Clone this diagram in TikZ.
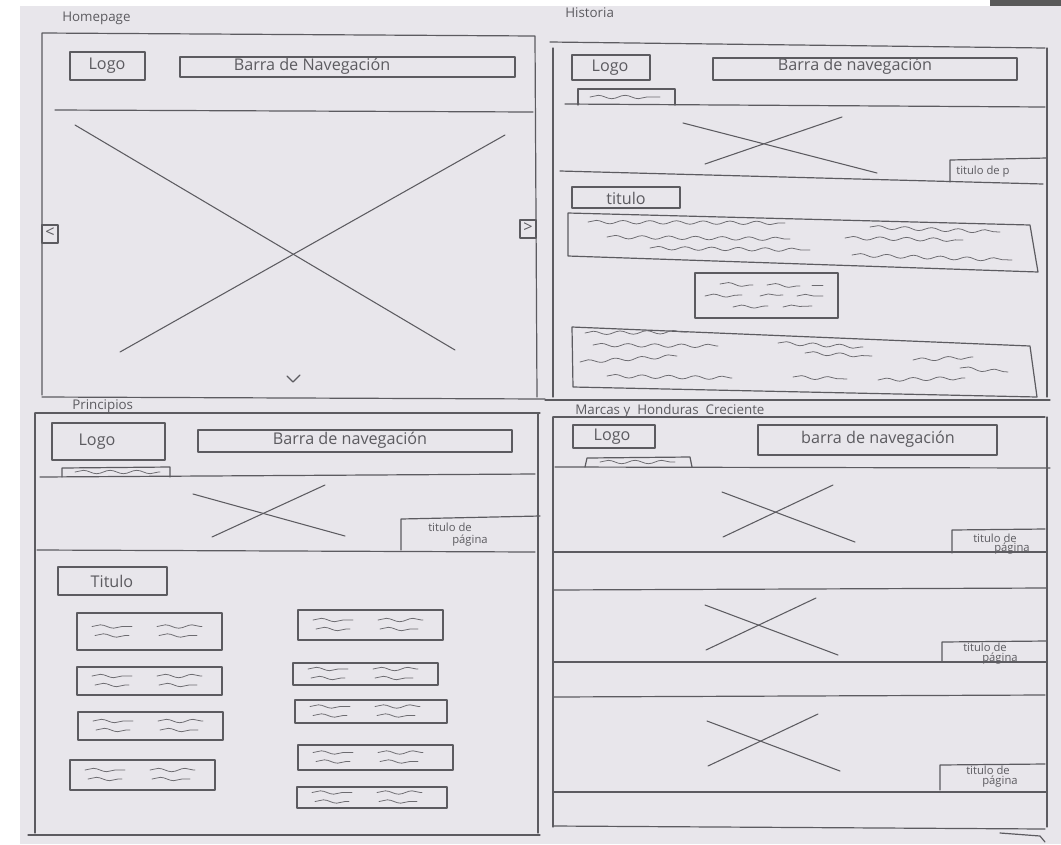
\documentclass[tikz,border=0pt]{standalone}
\usepackage{fontspec}
\setmainfont{Open Sans}
\usetikzlibrary{decorations.pathmorphing}
\definecolor{papel}{HTML}{E8E6EB}
\definecolor{lapiz}{HTML}{5C5B60}

\begin{document}
\begin{tikzpicture}[x=0.025cm, y=-0.025cm, line cap=round, line join=round,
        pen/.style={draw=lapiz, line width=0.85pt},
        cruz/.style={draw=lapiz, line width=0.75pt},
        onda/.style={draw=lapiz!90, line width=0.55pt, decorate,
            decoration={snake, segment length=19pt, amplitude=1.2pt}},
        hand/.style={text=lapiz, font=\fontsize{11.5}{12}\selectfont, inner sep=0pt},
        mini/.style={text=lapiz, font=\fontsize{8}{8}\selectfont, inner sep=0pt},
        pagelbl/.style={text=lapiz, font=\fontsize{9.5}{10}\selectfont, inner sep=0pt, anchor=base west}]
    \useasboundingbox (0,0) rectangle (1061,844);
    \fill[white] (0,0) rectangle (1061,844);
    \fill[papel] (20,6) rectangle (1061,844);
    \fill[black!65] (990,0) rectangle (1061,6);

    % ---------- Homepage ----------
    \node[pagelbl] (tHome) at (62,21) {Homepage};
    \draw[pen] (42,395) -- (42,33) -- (535,36) -- (537,397);
    \draw[pen] (42,397) -- (545,399);
    \draw[pen] (70,52) rectangle (145,80);
    \node[hand] (hLogo) at (107,66) {Logo};
    \draw[pen] (180,57) rectangle (515,77);
    \node[hand] (hBarra) at (312,66) {Barra de Navegación};
    \draw[pen] (55,110) -- (533,112);
    \draw[cruz] (75,125) -- (455,350);
    \draw[cruz] (505,135) -- (120,352);
    \draw[pen] (42,225) rectangle (58,243);
    \node[hand] (hPrev) at (50,233) {<};
    \draw[pen] (520,220) rectangle (536,238);
    \node[hand] (hNext) at (528,228) {>};
    \draw[pen] (287,376) -- (293,382) -- (300,375);

    % ---------- Historia ----------
    \node[pagelbl] (tHist) at (565,17) {Historia};
    \draw[pen] (550,42) -- (1045,48);
    \draw[pen] (553,48) -- (553,397);
    \draw[pen] (1047,48) -- (1047,397);
    \draw[pen] (545,400) -- (1050,400);
    \draw[pen] (572,55) rectangle (650,80);
    \node[hand] (sLogo) at (610,68) {Logo};
    \draw[pen] (713,58) rectangle (1017,80);
    \node[hand] (sBarra) at (855,66) {Barra de navegación};
    \draw[pen] (578,105) -- (578,89) -- (675,89) -- (675,105);
    \draw[onda] (590,97) -- (660,97);
    \draw[pen] (565,104) -- (1045,107);
    \draw[cruz] (683,123) -- (877,173);
    \draw[cruz] (705,164) -- (842,117);
    \draw[pen] (560,171) -- (1043,184);
    \draw[pen] (950,182) -- (950,160) -- (1047,158);
    \node[mini, anchor=west] (sTitPag) at (956,172) {titulo de p};
    \draw[pen] (572,187) rectangle (680,208);
    \node[hand] (sTitulo) at (626,198) {titulo};
    \draw[pen] (568,213) -- (1030,225) -- (1038,272) -- (568,256) -- cycle;
    \foreach \xa/\ya/\xb/\yb in {588/222/785/223, 607/237/790/239, 650/248/810/250,
            870/227/1000/232, 845/238/963/240, 852/255/1012/260}
        \draw[onda] (\xa,\ya) -- (\xb,\yb);
    \draw[pen] (695,273) rectangle (838,318);
    \foreach \xa/\ya/\xb/\yb in {720/284/753/285, 767/285/800/286, 812/285/823/285,
            705/296/742/295, 760/296/783/295, 797/296/823/296, 733/307/768/306, 783/307/812/306}
        \draw[onda] (\xa,\ya) -- (\xb,\yb);
    \draw[pen] (572,327) -- (1030,346) -- (1037,397) -- (573,387) -- cycle;
    \foreach \xa/\ya/\xb/\yb in {585/333/687/332, 593/345/718/346, 580/362/677/356,
            607/376/732/378, 778/343/863/347, 805/353/872/356, 913/360/973/357,
            960/368/1008/372, 793/377/847/379, 878/380/965/378}
        \draw[onda] (\xa,\ya) -- (\xb,\yb);

    % ---------- Principios ----------
    \node[pagelbl] (tPrin) at (72,409) {Principios};
    \draw[pen] (35,413) -- (540,413);
    \draw[pen] (35,413) -- (35,833);
    \draw[pen] (538,413) -- (538,833);
    \draw[pen] (28,835) -- (540,835);
    \draw[pen] (52,423) rectangle (165,460);
    \node[hand] (pLogo) at (97,442) {Logo};
    \draw[pen] (198,430) rectangle (512,452);
    \node[hand] (pBarra) at (350,440) {Barra de navegación};
    \draw[pen] (62,477) -- (62,468) -- (170,467) -- (170,477);
    \draw[onda] (75,472) -- (160,472);
    \draw[pen] (40,477) -- (535,474);
    \draw[cruz] (193,494) -- (345,536);
    \draw[cruz] (212,537) -- (325,485);
    \draw[pen] (401,550) -- (401,519) -- (540,516);
    \node[mini] (pTitPag1) at (450,527) {titulo de};
    \node[mini] (pTitPag2) at (470,541) {página};
    \draw[pen] (37,550) -- (535,552);
    \draw[pen] (58,567) rectangle (167,595);
    \node[hand] (pTitulo) at (112,581) {Titulo};
    \foreach \xa/\ya/\xb/\yb [evaluate=\ya as \m using (\ya+\yb)/2] in
            {77/613/222/650, 77/667/222/695, 78/712/223/740, 70/760/215/790,
             298/610/443/640, 293/663/438/685, 295/700/447/723, 298/745/453/770, 297/787/447/808} {
        \draw[pen] (\xa,\ya) rectangle (\xb,\yb);
        \draw[onda] ({\xa+15},{\m-5}) -- ({\xa+55},{\m-5});
        \draw[onda] ({\xa+18},{\m+4}) -- ({\xa+52},{\m+4});
        \draw[onda] ({\xa+80},{\m-5}) -- ({\xa+125},{\m-5});
        \draw[onda] ({\xa+82},{\m+4}) -- ({\xa+120},{\m+4});
    }

    % ---------- Marcas y Honduras Creciente ----------
    \node[pagelbl] (tMarc) at (575,414) {Marcas y \ Honduras \ Creciente};
    \draw[pen] (553,417) -- (1045,417);
    \draw[pen] (553,417) -- (553,827);
    \draw[pen] (1047,417) -- (1047,827);
    \draw[pen] (553,826) -- (1045,829);
    \draw[pen] (1000,833) -- (1040,836) -- (1045,842);
    \draw[pen] (573,425) rectangle (655,448);
    \node[hand] (mLogo) at (612,437) {Logo};
    \draw[pen] (758,425) rectangle (997,455);
    \node[hand] (mBarra) at (878,439) {barra de navegación};
    \draw[pen] (585,467) -- (587,458) -- (690,457) -- (692,467);
    \draw[onda] (600,462) -- (675,462);
    \draw[pen] (555,467) -- (1050,468);
    % tres bloques con imagen y titulo
    \foreach \top/\bot/\ox/\oy in {467/552/788/515, 590/662/771/628, 697/792/773/744} {
        \draw[cruz] ({\ox-66},{\oy-23}) -- ({\ox+67},{\oy+27});
        \draw[cruz] ({\ox-65},{\oy+22}) -- ({\ox+45},{\oy-30});
        \draw[pen] (553,\bot) -- (1047,\bot);
    }
    \draw[pen] (553,590) -- (1047,588);
    \draw[pen] (553,697) -- (1045,695);
    \draw[pen] (952,553) -- (952,530) -- (1045,529);
    \node[mini] (mTitPag1) at (995,538) {titulo de};
    \node[mini] (mTitPag2) at (1012,549) {página};
    \draw[pen] (942,662) -- (942,642) -- (1047,641);
    \node[mini] (mTitPag3) at (985,647) {titulo de};
    \node[mini] (mTitPag4) at (1000,659) {página};
    \draw[pen] (940,790) -- (940,765) -- (1045,764);
    \node[mini] (mTitPag5) at (988,770) {titulo de};
    \node[mini] (mTitPag6) at (1000,782) {página};
\end{tikzpicture}
\end{document}
